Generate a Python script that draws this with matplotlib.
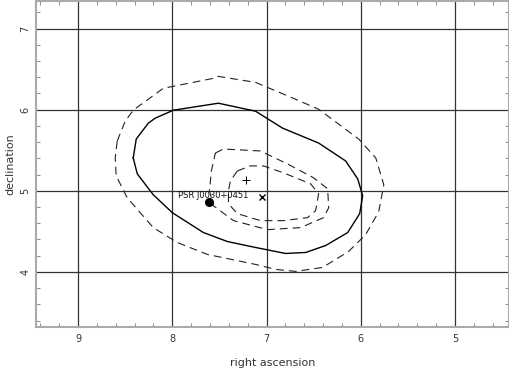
import matplotlib
matplotlib.use("Agg")
import matplotlib.pyplot as plt
from matplotlib.ticker import MultipleLocator

# contour traces (RA deg, Dec deg)
outer_ra = [8.585, 8.500, 8.415, 8.096, 7.564, 7.511, 7.117, 6.766, 6.447, 6.021,
            5.840, 5.755, 5.809, 5.947, 6.128, 6.404, 6.691, 6.904, 7.117, 7.628,
            7.947, 8.202, 8.479, 8.596, 8.606]
outer_dec = [5.613, 5.859, 5.994, 6.264, 6.387, 6.411, 6.337, 6.166, 6.006, 5.638,
             5.405, 5.074, 4.742, 4.460, 4.252, 4.055, 4.006, 4.031, 4.092, 4.215,
             4.362, 4.546, 4.914, 5.184, 5.405]

solid_ra = [8.415, 8.383, 8.255, 8.181, 7.989, 7.511, 7.117, 6.830, 6.447, 6.160,
            6.032, 5.979, 6.011, 6.138, 6.372, 6.585, 6.798, 7.117, 7.415, 7.670,
            8.000, 8.202, 8.372]
solid_dec = [5.405, 5.638, 5.834, 5.896, 5.994, 6.080, 5.982, 5.773, 5.589, 5.368,
             5.147, 4.939, 4.718, 4.485, 4.325, 4.239, 4.227, 4.301, 4.374, 4.485,
             4.730, 4.951, 5.209]

inner1_ra = [7.543, 7.457, 7.064, 6.777, 6.500, 6.351, 6.340, 6.394, 6.638, 6.989,
             7.351, 7.564, 7.606, 7.585]
inner1_dec = [5.466, 5.515, 5.491, 5.331, 5.160, 5.025, 4.791, 4.669, 4.546, 4.521,
              4.632, 4.816, 5.000, 5.245]

inner2_ra = [7.309, 7.170, 7.032, 6.819, 6.532, 6.447, 6.479, 6.564, 6.819, 7.064,
             7.309, 7.404, 7.404, 7.383]
inner2_dec = [5.245, 5.307, 5.307, 5.221, 5.086, 4.963, 4.755, 4.669, 4.632, 4.632,
              4.718, 4.840, 5.000, 5.123]

psr_name = "PSR J0030+0451"
psr_ra, psr_dec = 7.614, 4.861
cross_ra, cross_dec = 7.053, 4.926
plus_ra, plus_dec = 7.223, 5.135


def closed(xs, ys):
    return xs + xs[:1], ys + ys[:1]


fig = plt.figure(figsize=(5.1, 3.68), dpi=100)
ax = fig.add_axes([0.0706, 0.1114, 0.9274, 0.8866])

dash = (0, (7, 4.5))
ax.plot(*closed(outer_ra, outer_dec), color="#222222", lw=0.8, linestyle=dash)
ax.plot(*closed(solid_ra, solid_dec), color="black", lw=1.0)
ax.plot(*closed(inner1_ra, inner1_dec), color="#222222", lw=0.8, linestyle=dash)
ax.plot(*closed(inner2_ra, inner2_dec), color="#222222", lw=0.8, linestyle=dash)

ax.plot(psr_ra, psr_dec, "o", color="black", ms=5.5)
ax.plot(cross_ra, cross_dec, "x", color="black", ms=4, mew=1.0)
ax.plot(plus_ra, plus_dec, "+", color="black", ms=5.5, mew=0.7)
ax.text(7.936, 4.94, psr_name, fontsize=6, ha="left", va="center", color="#111111")

ax.set_xlim(9.447, 4.426)
ax.set_ylim(3.32, 7.344)

ax.xaxis.set_major_locator(MultipleLocator(1))
ax.yaxis.set_major_locator(MultipleLocator(1))
ax.xaxis.set_minor_locator(MultipleLocator(0.2))
ax.yaxis.set_minor_locator(MultipleLocator(0.2))
ax.grid(which="major", color="#333333", lw=0.9)
ax.set_axisbelow(True)

ax.tick_params(which="major", length=0, labelsize=7, colors="#333333", pad=5)
ax.tick_params(which="minor", direction="in", length=3, color="#777777",
               top=True, right=True)
ax.tick_params(axis="y", which="major", pad=4)
for lbl in ax.get_yticklabels():
    lbl.set_rotation(90)
    lbl.set_va("center")

for sp in ax.spines.values():
    sp.set_color("#aaaaaa")
    sp.set_linewidth(1.5)

ax.set_xlabel("right ascension", fontsize=8, color="#333333", labelpad=10)
ax.set_ylabel("declination", fontsize=8, color="#333333", labelpad=4)

fig.savefig("out.png", dpi=100)
